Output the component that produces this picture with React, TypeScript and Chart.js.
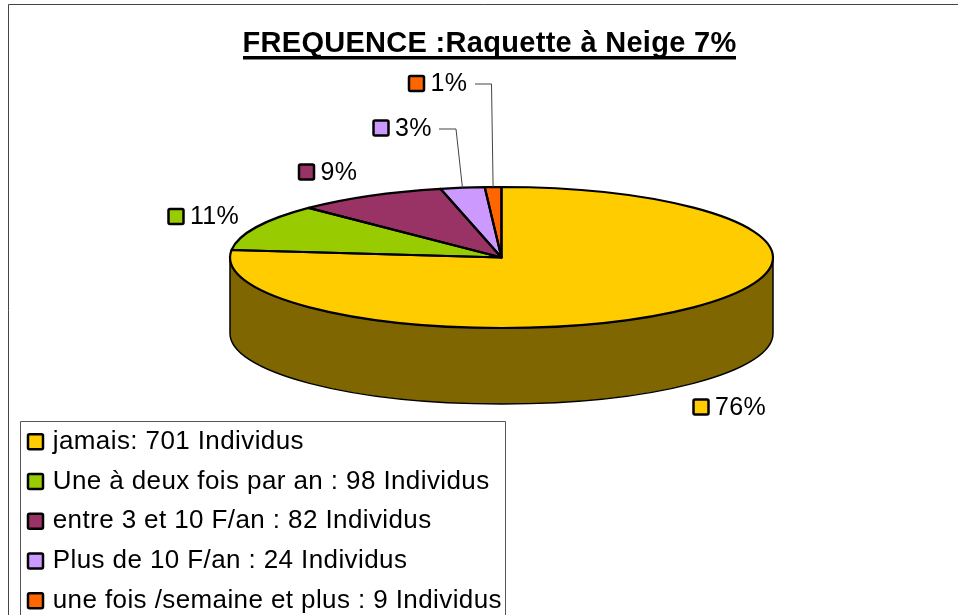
import React, { useEffect, useRef } from "react";
import { Chart, registerables } from "chart.js";

Chart.register(...registerables);

const chartTitle = "FREQUENCE :Raquette à Neige 7%";
const categories = [
  "jamais: 701 Individus",
  "Une à deux fois par an : 98 Individus",
  "entre 3 et 10 F/an : 82 Individus",
  "Plus de 10 F/an : 24 Individus",
  "une fois /semaine et plus : 9 Individus",
];
const individuals = [701, 98, 82, 24, 9];
const percentLabels = ["76%", "11%", "9%", "3%", "1%"];
const sliceColors = ["#FFCC00", "#99CC00", "#993366", "#CC99FF", "#FF6600"];

const FONT = '"Liberation Sans", Arial, sans-serif';
const LEGEND_SIZE = 26;
const LEGEND_SPACING = "0.4px";
const PCT_SIZE = 25;
const PCT_SPACING = "0.3px";
const TITLE_SIZE = 29;
const TITLE_SPACING = "0.3px";
const PIE = { cy: 257.5, ry: 70.5, depth: 76 };
const WALL_COLOR = "#7F6600";
// swatch centre of each percentage label, and the elbow of its leader line if it has one
const labelPlaces = [
  { x: 701, y: 407 },
  { x: 176, y: 216.5 },
  { x: 306.5, y: 172 },
  { x: 381, y: 128, leader: { from: [439, 129], elbow: [456, 129] } },
  { x: 416.5, y: 83.5, leader: { from: [475, 84], elbow: [491.5, 84] } },
];
const LEGEND = { left: 14, top: 415, padding: 13.75, frameL: 20.5, frameR: 505.5, frameT: 421.5, swatchX: 35.5 };

function swatch(ctx: CanvasRenderingContext2D, x: number, y: number, color: string) {
  ctx.save();
  ctx.beginPath();
  ctx.roundRect(x - 7.5, y - 7.5, 15, 15, 1.5);
  ctx.fillStyle = color;
  ctx.fill();
  ctx.lineWidth = 2.5;
  ctx.strokeStyle = "#000";
  ctx.stroke();
  ctx.restore();
}

function withSpacing(box: any, spacing: string) {
  if (box.__spaced) return;
  box.__spaced = true;
  const original = box.draw;
  box.draw = function (...args: any[]) {
    this.ctx.letterSpacing = spacing;
    original.apply(this, args);
    this.ctx.letterSpacing = "0px";
  };
}

const pie3d = {
  id: "pie3d",
  afterLayout(chart: any) {
    const t = chart.titleBlock;
    t.left = 0;
    t.right = 979;
    t.width = 979;
    t.top = 26.5;
    t.bottom = 26.5 + TITLE_SIZE * 1.2;
    withSpacing(t, TITLE_SPACING);
    const l = chart.legend;
    l.left = LEGEND.left;
    l.right = 520;
    l.top = LEGEND.top;
    l.bottom = 760;
    l.height = 345;
    withSpacing(l, LEGEND_SPACING);
  },
  beforeDraw(chart: any) {
    const { ctx, width, height } = chart;
    ctx.save();
    ctx.fillStyle = "#fff";
    ctx.fillRect(0, 0, width, height);
    ctx.strokeStyle = "#444";
    ctx.lineWidth = 1;
    ctx.beginPath();
    ctx.moveTo(8.5, height + 2);
    ctx.lineTo(8.5, 4.5);
    ctx.lineTo(width + 2, 4.5);
    ctx.stroke();
    ctx.beginPath();
    ctx.moveTo(LEGEND.frameL, height + 2);
    ctx.lineTo(LEGEND.frameL, LEGEND.frameT);
    ctx.lineTo(LEGEND.frameR, LEGEND.frameT);
    ctx.lineTo(LEGEND.frameR, height + 2);
    ctx.strokeStyle = "#555";
    ctx.stroke();
    ctx.restore();
  },
  beforeDatasetsDraw(chart: any) {
    const { ctx } = chart;
    const arcs = chart.getDatasetMeta(0).data;
    const first = arcs[0];
    ctx.save();
    ctx.lineWidth = 1.5;
    ctx.strokeStyle = "#000";
    ctx.fillStyle = WALL_COLOR;
    ctx.lineJoin = "round";
    const cx = first.x;
    const R = first.outerRadius;
    arcs.forEach((arc: any) => {
      const a = Math.max(arc.startAngle, 0);
      const b = Math.min(arc.endAngle, Math.PI);
      if (b <= a) return;
      ctx.beginPath();
      ctx.ellipse(cx, PIE.cy, R, PIE.ry, 0, a, b);
      ctx.ellipse(cx, PIE.cy + PIE.depth, R, PIE.ry, 0, b, a, true);
      ctx.closePath();
      ctx.fill();
      ctx.stroke();
    });
    ctx.restore();
    ctx.save();
    ctx.translate(cx, PIE.cy);
    ctx.scale(1, PIE.ry / R);
    ctx.translate(-cx, -first.y);
  },
  afterDatasetsDraw(chart: any) {
    const { ctx } = chart;
    ctx.restore();
    const arcs = chart.getDatasetMeta(0).data;
    const cx = arcs[0].x;
    const R = arcs[0].outerRadius;
    ctx.save();
    ctx.lineWidth = 2.2;
    ctx.strokeStyle = "#000";
    ctx.lineJoin = "round";
    arcs.forEach((arc: any) => {
      ctx.beginPath();
      ctx.moveTo(cx, PIE.cy);
      ctx.ellipse(cx, PIE.cy, R, PIE.ry, 0, arc.startAngle, arc.endAngle);
      ctx.closePath();
      ctx.stroke();
    });
    ctx.restore();
  },
  afterDraw(chart: any) {
    const { ctx } = chart;
    const arcs = chart.getDatasetMeta(0).data;
    const cx = arcs[0].x;
    const R = arcs[0].outerRadius;
    ctx.save();
    // title underline
    ctx.fillStyle = "#000";
    ctx.fillRect(243, 56, 493, 3.5);
    // legend keys
    const row = LEGEND_SIZE + LEGEND.padding;
    sliceColors.forEach((c, i) => {
      swatch(ctx, LEGEND.swatchX, LEGEND.top + LEGEND.padding + i * row + LEGEND_SIZE / 2, c);
    });
    // percentage labels
    ctx.font = `${PCT_SIZE}px ${FONT}`;
    ctx.letterSpacing = PCT_SPACING;
    ctx.textBaseline = "middle";
    ctx.textAlign = "left";
    percentLabels.forEach((txt, i) => {
      const p = labelPlaces[i];
      swatch(ctx, p.x, p.y, sliceColors[i]);
      ctx.fillStyle = "#000";
      ctx.fillText(txt, p.x + 14, p.y + 1);
      if (p.leader) {
        const mid = (arcs[i].startAngle + arcs[i].endAngle) / 2;
        ctx.beginPath();
        ctx.moveTo(p.leader.from[0], p.leader.from[1]);
        ctx.lineTo(p.leader.elbow[0], p.leader.elbow[1]);
        ctx.lineTo(cx + R * Math.cos(mid), PIE.cy + PIE.ry * Math.sin(mid));
        ctx.strokeStyle = "#444";
        ctx.lineWidth = 1;
        ctx.stroke();
      }
    });
    ctx.letterSpacing = "0px";
    ctx.restore();
  },
};

export default function App() {
  const ref = useRef<HTMLCanvasElement>(null);
  useEffect(() => {
    const chart = new Chart(ref.current!, {
      type: "pie",
      data: {
        labels: categories,
        datasets: [{ data: individuals, backgroundColor: sliceColors, borderWidth: 0 }],
      },
      options: {
        responsive: false,
        animation: false,
        layout: { padding: { left: 230, right: 185, top: 0, bottom: 0 } },
        plugins: {
          title: {
            display: true,
            text: chartTitle,
            color: "#000",
            padding: 0,
            font: { family: FONT, size: TITLE_SIZE, weight: "bold", lineHeight: 1.2 },
          },
          legend: {
            display: true,
            position: "chartArea" as any,
            align: "start",
            labels: {
              boxWidth: 12,
              boxHeight: 12,
              padding: LEGEND.padding,
              color: "#000",
              font: { family: FONT, size: LEGEND_SIZE },
            },
          },
          tooltip: { enabled: false },
        },
      },
      plugins: [pie3d],
    } as any);
    return () => chart.destroy();
  }, []);
  return (
    <div style={{ position: "absolute", left: 0, top: 0, width: 958, height: 615, overflow: "hidden", background: "#fff" }}>
      <canvas ref={ref} width={958} height={615} style={{ display: "block" }} />
    </div>
  );
}
